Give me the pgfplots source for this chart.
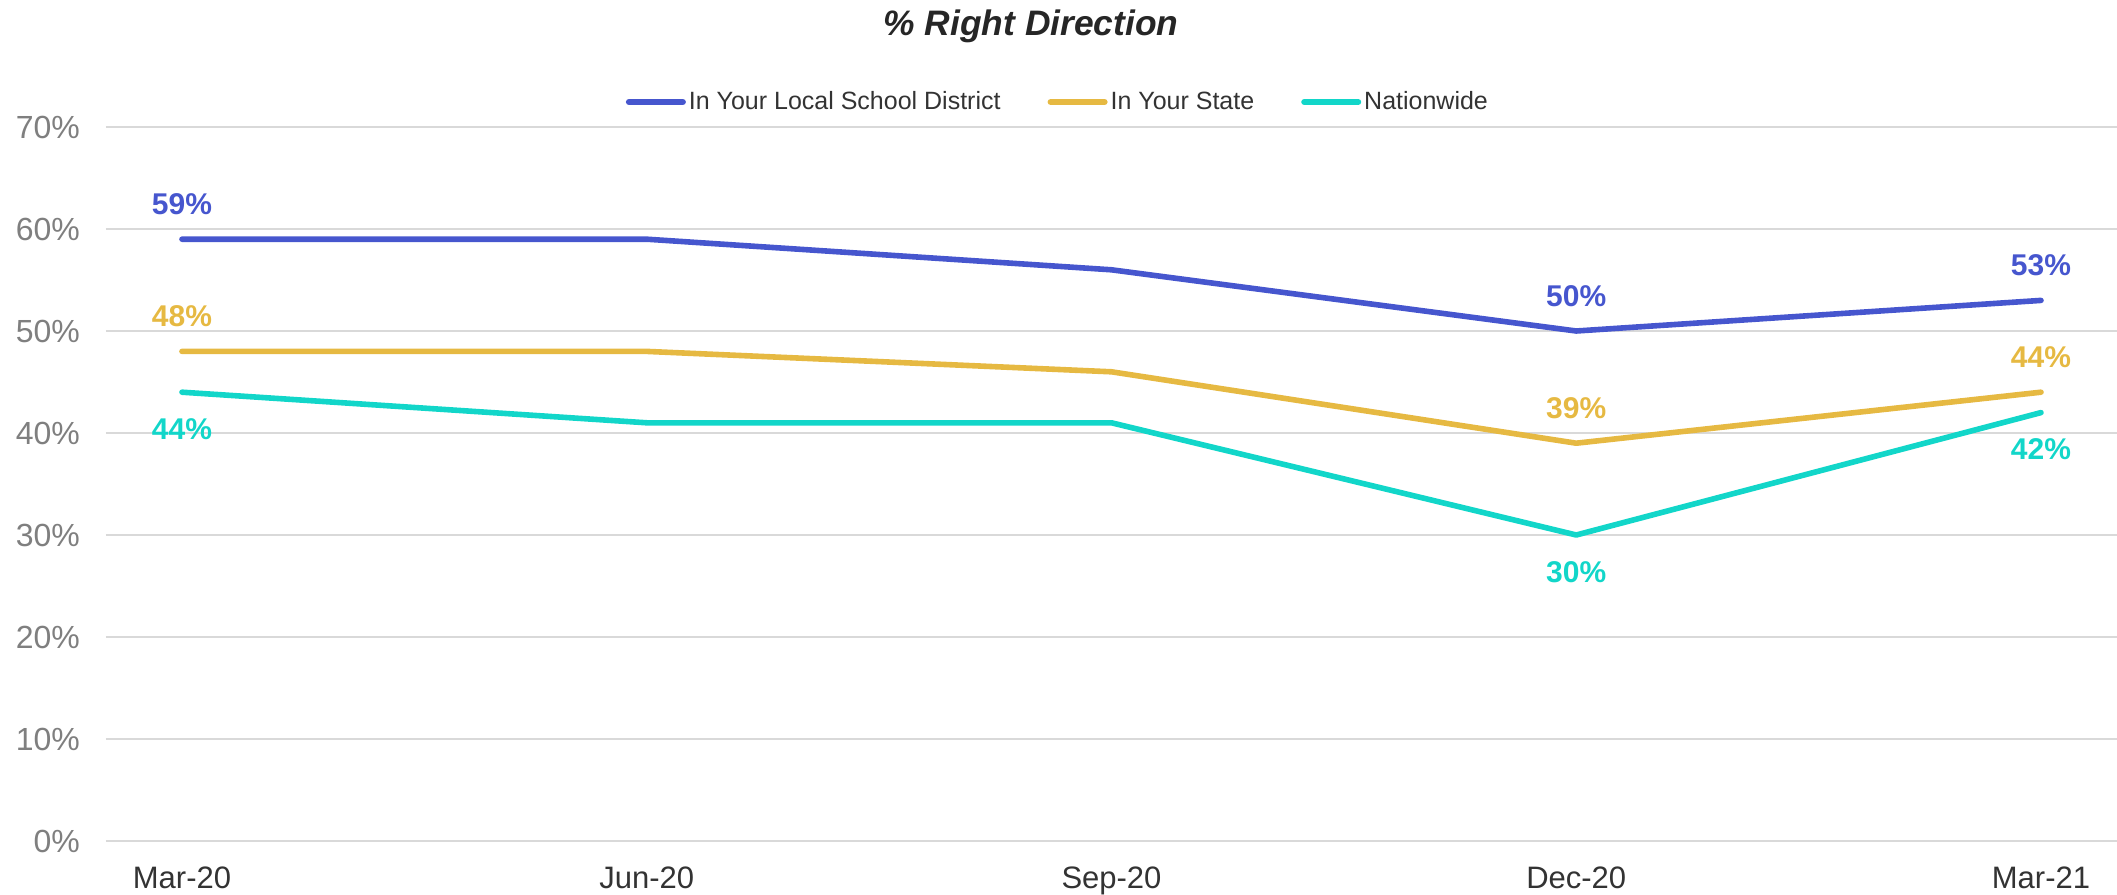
\documentclass[border=0pt]{standalone}
\usepackage{fontspec}
\setmainfont{Liberation Sans}
\usepackage{pgfplots}
\pgfplotsset{compat=1.18}
\usepackage{pgfplotstable}
\definecolor{cLocal}{HTML}{4656CE}
\definecolor{cState}{HTML}{E6B942}
\definecolor{cNation}{HTML}{12D6C9}
\definecolor{cGrid}{HTML}{D9D9D9}
\definecolor{cYtick}{HTML}{7F7F7F}
\definecolor{cXtick}{HTML}{333333}
\definecolor{cTitle}{HTML}{262626}

\pgfplotstableread{
x local state nation
0 59 48 44
1 59 48 41
2 56 46 41
3 50 39 30
4 53 44 42
}\data

\pgfplotstableread{
x local state nation
0 59 48 44
3 50 39 30
4 53 44 42
}\labeled

\begin{document}
\begin{tikzpicture}
\begin{axis}[
  at={(0,0)}, anchor=south west,
  scale only axis,
  width=1005.5pt, height=357pt,
  xmin=-0.1635, xmax=4.1635,
  ymin=0, ymax=70,
  ytick={0,10,...,70},
  yticklabels={0\%,10\%,20\%,30\%,40\%,50\%,60\%,70\%},
  xtick={0,1,2,3,4},
  xticklabels={Mar-20,Jun-20,Sep-20,Dec-20,Mar-21},
  axis line style={draw=none},
  major tick length=0pt,
  ymajorgrids,
  grid style={color=cGrid, line width=1pt},
  yticklabel style={font=\fontsize{16}{19}\selectfont, text=cYtick, anchor=east, xshift=-9.5pt},
  xticklabel style={font=\fontsize{15.5}{18}\selectfont, text=cXtick, anchor=base, yshift=-23.6pt},
  title={\textbf{\textit{\% Right Direction}}},
  title style={font=\fontsize{17.7}{21}\selectfont, text=cTitle, at={(0.46,1.1107)}, anchor=base, yshift=0pt},
  legend columns=-1,
  legend style={draw=none, fill=none, at={(0.4736,1.035)}, anchor=center,
    font=\fontsize{12.5}{15}\selectfont, text=cXtick,
    nodes={inner sep=1.5pt}},
  legend image code/.code={\draw[#1, line width=3pt, line cap=round] (0pt,0pt) -- (27pt,0pt);},
  every axis plot/.append style={line width=2.8pt, line join=round, line cap=round},
  clip=false,
]
\addplot[color=cLocal, mark=none] table[x=x, y=local] {\data};
\addlegendentry{In Your Local School District\rule{22pt}{0pt}}
\addplot[color=cState, mark=none] table[x=x, y=state] {\data};
\addlegendentry{In Your State\rule{22pt}{0pt}}
\addplot[color=cNation, mark=none] table[x=x, y=nation] {\data};
\addlegendentry{Nationwide}

\addplot[draw=none, forget plot, point meta=y,
  nodes near coords={\pgfmathprintnumber[assume math mode=true]{\pgfplotspointmeta}\%},
  nodes near coords style={font=\fontsize{15}{18}\selectfont\bfseries, text=cLocal, anchor=center, yshift=17.5pt}]
  table[x=x, y=local] {\labeled};
\addplot[draw=none, forget plot, point meta=y,
  nodes near coords={\pgfmathprintnumber[assume math mode=true]{\pgfplotspointmeta}\%},
  nodes near coords style={font=\fontsize{15}{18}\selectfont\bfseries, text=cState, anchor=center, yshift=17.5pt}]
  table[x=x, y=state] {\labeled};
\addplot[draw=none, forget plot, point meta=y,
  nodes near coords={\pgfmathprintnumber[assume math mode=true]{\pgfplotspointmeta}\%},
  nodes near coords style={font=\fontsize{15}{18}\selectfont\bfseries, text=cNation, anchor=center, yshift=-18.5pt}]
  table[x=x, y=nation] {\labeled};
\end{axis}
\pgfresetboundingbox
\useasboundingbox (-53pt,-27pt) rectangle (1005.5pt,420.5pt);
\end{tikzpicture}
\end{document}
